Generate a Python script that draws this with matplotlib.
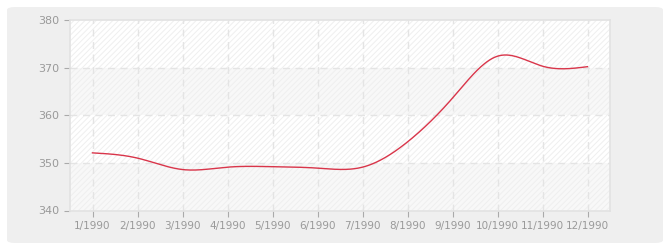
import numpy as np
import matplotlib
matplotlib.use("Agg")
import matplotlib.pyplot as plt
from matplotlib.patches import FancyBboxPatch, Rectangle

months = list(range(1, 13))
labels = ["%d/1990" % m for m in months]
values = [352.1, 351.0, 348.6, 349.1, 349.2, 348.9, 349.1, 354.4, 363.6, 372.4, 370.3, 370.2]
yticks = [340, 350, 360, 370, 380]

plt.rcParams["hatch.linewidth"] = 0.7


def natural_spline(x, y, n=400):
    x = np.asarray(x, float)
    y = np.asarray(y, float)
    k = len(x)
    h = np.diff(x)
    A = np.zeros((k, k))
    b = np.zeros(k)
    A[0, 0] = A[-1, -1] = 1
    for i in range(1, k - 1):
        A[i, i - 1] = h[i - 1]
        A[i, i] = 2 * (h[i - 1] + h[i])
        A[i, i + 1] = h[i]
        b[i] = 6 * ((y[i + 1] - y[i]) / h[i] - (y[i] - y[i - 1]) / h[i - 1])
    M = np.linalg.solve(A, b)
    xs = np.linspace(x[0], x[-1], n)
    idx = np.clip(np.searchsorted(x, xs) - 1, 0, k - 2)
    x0, x1 = x[idx], x[idx + 1]
    hh = x1 - x0
    t0, t1 = x1 - xs, xs - x0
    ys = (M[idx] * t0 ** 3 + M[idx + 1] * t1 ** 3) / (6 * hh) \
        + (y[idx] / hh - M[idx] * hh / 6) * t0 + (y[idx + 1] / hh - M[idx + 1] * hh / 6) * t1
    return xs, ys


fig = plt.figure(figsize=(6.7, 2.5), dpi=100)
fig.patch.set_facecolor("white")
panel = FancyBboxPatch((7 / 670, 7 / 250), 656 / 670, 236 / 250,
                       boxstyle="round,pad=0,rounding_size=0.012",
                       transform=fig.transFigure, facecolor="#efefef",
                       edgecolor="none", zorder=-10)
fig.patches.append(panel)

ax = fig.add_axes([70 / 670, 39.5 / 250, 540 / 670, 190.5 / 250])
ax.set_facecolor("white")
ax.set_xlim(0.5, 12.5)
ax.set_ylim(340, 380)

# alternating bands with light hatching
for lo, hi in zip(yticks[:-1], yticks[1:]):
    fc = "#f8f8f8" if lo in (340, 360) else "white"
    ax.add_patch(Rectangle((0.5, lo), 12, hi - lo, facecolor=fc, edgecolor="#efefef",
                           hatch="//////", linewidth=0, zorder=0))

for yv in [350, 360, 370]:
    ax.axhline(yv, color="#e4e4e4", lw=1, ls=(0, (5, 4)), zorder=1)
for m in months:
    ax.axvline(m, color="#e4e4e4", lw=1, ls=(0, (5, 4)), zorder=1)

xs, ys = natural_spline(months, values)
ax.plot(xs, ys, color="#d9354a", lw=1.0, zorder=3)

ax.set_xticks(months)
ax.set_xticklabels(labels)
ax.set_yticks(yticks)
ax.tick_params(colors="#aaaaaa", labelcolor="#999999", labelsize=7.5, length=4, width=0.8)
ax.tick_params(axis="y", labelsize=8)
for s in ax.spines.values():
    s.set_color("#e2e2e2")
    s.set_linewidth(1.2)

fig.savefig("out.png", dpi=100)
